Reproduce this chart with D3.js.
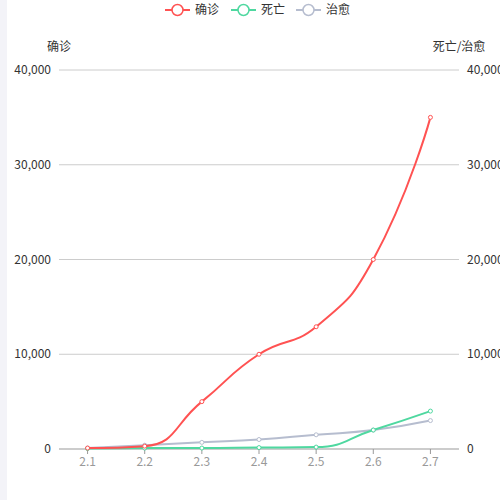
<!DOCTYPE html>
<html>
<head>
<meta charset="utf-8">
<script src="https://cdn.jsdelivr.net/npm/d3@7"></script>
<style>
  body { margin: 0; background: #fff; }
  svg { display: block; font-family: "Noto Sans CJK SC", "Noto Sans", sans-serif; }
</style>
</head>
<body>
<div id="chart"></div>
<script>
// data
const dates = ["2.1", "2.2", "2.3", "2.4", "2.5", "2.6", "2.7"];
const confirmed = [100, 300, 5000, 10000, 12900, 20000, 35000];
const deaths = [50, 100, 100, 150, 200, 2000, 4000];
const cured = [100, 400, 700, 1000, 1500, 2000, 3000];
const yTicks = [0, 10000, 20000, 30000, 40000];
const seriesNames = ["确诊", "死亡", "治愈"];
const colors = ["#ff5252", "#4fd8a0", "#b6bdcf"];

const W = 500, H = 500;
const margin = { top: 70, right: 41, bottom: 51, left: 59 };

const svg = d3.select("#chart").append("svg")
  .attr("width", W).attr("height", H);

// pale strip at the left edge
svg.append("rect").attr("x", 0).attr("y", 0).attr("width", 7).attr("height", H).attr("fill", "#f3f3f8");

const x = d3.scaleBand().domain(dates).range([margin.left, W - margin.right]);
const y = d3.scaleLinear().domain([0, 40000]).range([H - margin.bottom, margin.top]);
const fmt = d3.format(",");
const cx = d => x(d) + x.bandwidth() / 2;

// grid
svg.append("g").selectAll("line")
  .data(yTicks.filter(d => d > 0))
  .enter().append("line")
  .attr("x1", margin.left).attr("x2", W - margin.right)
  .attr("y1", d => y(d)).attr("y2", d => y(d))
  .attr("stroke", "#cccccc").attr("stroke-width", 1);

// left axis labels
svg.append("g").selectAll("text")
  .data(yTicks).enter().append("text")
  .attr("x", margin.left - 8).attr("y", d => y(d)).attr("dy", "0.35em")
  .attr("text-anchor", "end").attr("font-size", 12).attr("fill", "#333")
  .text(d => fmt(d));

// right axis labels (same scale)
svg.append("g").selectAll("text")
  .data(yTicks).enter().append("text")
  .attr("x", W - margin.right + 8).attr("y", d => y(d)).attr("dy", "0.35em")
  .attr("text-anchor", "start").attr("font-size", 12).attr("fill", "#333")
  .text(d => fmt(d));

// axis names
svg.append("text").attr("x", 59).attr("y", 51).attr("text-anchor", "middle")
  .attr("font-size", 12).attr("fill", "#333").text("确诊");
svg.append("text").attr("x", 459).attr("y", 51).attr("text-anchor", "middle")
  .attr("font-size", 12).attr("fill", "#333").text("死亡/治愈");

// x axis
const xg = svg.append("g").attr("transform", "translate(0," + y(0) + ")");
xg.append("line").attr("x1", margin.left).attr("x2", W - margin.right)
  .attr("stroke", "#999").attr("stroke-width", 1);
xg.selectAll(".tick").data(dates).enter().append("line")
  .attr("x1", cx).attr("x2", cx).attr("y1", 0).attr("y2", 5)
  .attr("stroke", "#999");
xg.selectAll("text").data(dates).enter().append("text")
  .attr("x", cx).attr("y", 17).attr("text-anchor", "middle")
  .attr("font-size", 12).attr("fill", "#999")
  .text(d => d);

// echarts-like smooth line
function smoothPath(pts, smooth) {
  let p = "M" + pts[0][0] + "," + pts[0][1];
  let cp0x = pts[0][0], cp0y = pts[0][1];
  for (let i = 1; i < pts.length; i++) {
    const [px, py] = pts[i - 1], [xx, yy] = pts[i];
    let cp1x, cp1y, ncx, ncy;
    if (i === pts.length - 1) {
      cp1x = xx; cp1y = yy;
    } else {
      const [nx, ny] = pts[i + 1];
      let vx = nx - px, vy = ny - py;
      const l0 = Math.hypot(xx - px, yy - py), l1 = Math.hypot(nx - xx, ny - yy);
      const r = l1 / (l0 + l1);
      ncx = xx + vx * smooth * r; ncy = yy + vy * smooth * r;
      ncx = Math.max(Math.min(ncx, Math.max(nx, xx)), Math.min(nx, xx));
      ncy = Math.max(Math.min(ncy, Math.max(ny, yy)), Math.min(ny, yy));
      vx = ncx - xx; vy = ncy - yy;
      cp1x = xx - vx * l0 / l1; cp1y = yy - vy * l0 / l1;
      cp1x = Math.max(Math.min(cp1x, Math.max(px, xx)), Math.min(px, xx));
      cp1y = Math.max(Math.min(cp1y, Math.max(py, yy)), Math.min(py, yy));
      vx = xx - cp1x; vy = yy - cp1y;
      ncx = xx + vx * l1 / l0; ncy = yy + vy * l1 / l0;
    }
    p += "C" + cp0x + "," + cp0y + "," + cp1x + "," + cp1y + "," + xx + "," + yy;
    cp0x = ncx; cp0y = ncy;
  }
  return p;
}

const allSeries = [confirmed, deaths, cured];
// draw from back to front so that red sits on top
[2, 1, 0].forEach(k => {
  const vals = allSeries[k];
  const pts = dates.map((d, i) => [cx(d), y(vals[i])]);
  svg.append("path").attr("d", smoothPath(pts, 0.5))
    .attr("fill", "none").attr("stroke", colors[k]).attr("stroke-width", 2);
  svg.append("g").selectAll("circle").data(pts).enter().append("circle")
    .attr("cx", d => d[0]).attr("cy", d => d[1]).attr("r", 2)
    .attr("fill", "#fff").attr("stroke", colors[k]).attr("stroke-width", 1);
});

// legend
const legendX = [165, 231, 296];
const lg = svg.append("g");
seriesNames.forEach((name, i) => {
  const g = lg.append("g").attr("transform", "translate(" + legendX[i] + ",10)");
  g.append("line").attr("x1", 0).attr("x2", 25).attr("stroke", colors[i]).attr("stroke-width", 2);
  g.append("circle").attr("cx", 12.5).attr("r", 5.5).attr("fill", "#fff")
    .attr("stroke", colors[i]).attr("stroke-width", 1.5);
  g.append("text").attr("x", 30).attr("dy", "0.35em").attr("font-size", 12)
    .attr("fill", "#333").text(name);
});
</script>
</body>
</html>
